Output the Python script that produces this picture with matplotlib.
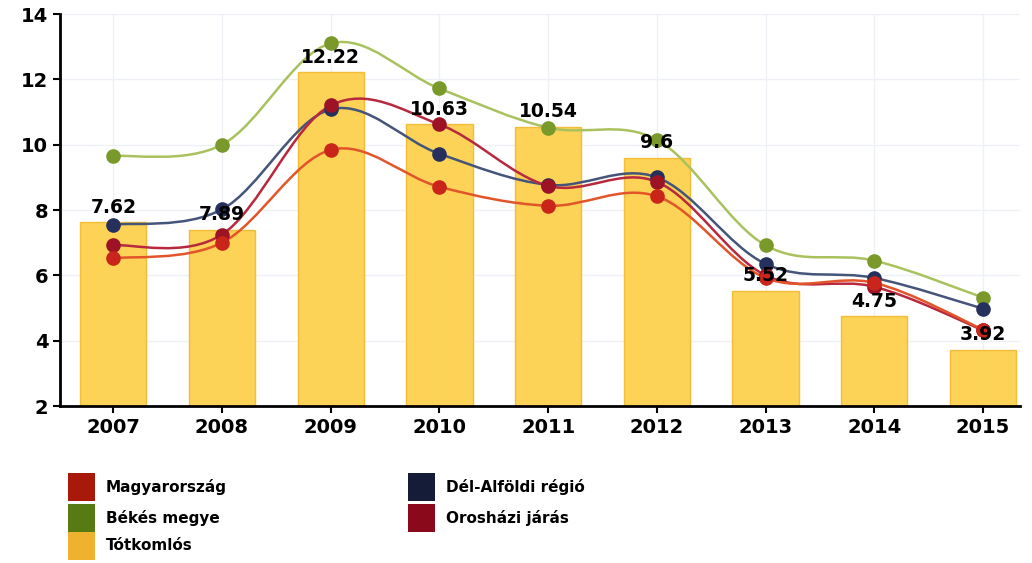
import matplotlib.pyplot as plt
import numpy as np
from matplotlib.path import Path
from matplotlib.patches import PathPatch, Rectangle

# data
years = ["2007", "2008", "2009", "2010", "2011", "2012", "2013", "2014", "2015"]
totkomlos = [7.62, 7.39, 12.22, 10.63, 10.54, 9.6, 5.52, 4.75, 3.72]
bekes = [9.65, 10.0, 13.1, 11.72, 10.52, 10.15, 6.92, 6.45, 5.32]
del_alfoldi = [7.55, 8.02, 11.08, 9.72, 8.77, 9.0, 6.35, 5.92, 4.98]
oroshazi = [6.92, 7.25, 11.2, 10.62, 8.74, 8.86, 6.0, 5.65, 4.32]
magyarorszag = [6.52, 7.0, 9.84, 8.71, 8.13, 8.42, 5.92, 5.77, 4.34]
bar_labels = ["7.62", "7.89", "12.22", "10.63", "10.54", "9.6", "5.52", "4.75", "3.92"]

#Smooth curve through the points with cubic bezier segments (Catmull-Rom style)
def smooth_path(xs, ys, t=0.17):
    xs = np.asarray(xs, float)
    ys = np.asarray(ys, float)
    n = len(xs)
    verts = [(xs[0], ys[0])]
    codes = [Path.MOVETO]
    for i in range(n - 1):
        p0 = max(i - 1, 0)
        p3 = min(i + 2, n - 1)
        c1 = (xs[i] + (xs[i + 1] - xs[p0]) * t, ys[i] + (ys[i + 1] - ys[p0]) * t)
        c2 = (xs[i + 1] - (xs[p3] - xs[i]) * t, ys[i + 1] - (ys[p3] - ys[i]) * t)
        verts += [c1, c2, (xs[i + 1], ys[i + 1])]
        codes += [Path.CURVE4] * 3
    return Path(verts, codes)

fig = plt.figure(figsize=(10.32, 5.63), dpi=100)
ax = fig.add_axes([60 / 1032, 1 - 406 / 563, 960 / 1032, 392 / 563])

x = np.arange(len(years))
ax.bar(x, [v - 2 for v in totkomlos], bottom=2, width=0.61, color="#fcd257",
       edgecolor="#f3bd3a", linewidth=1, zorder=2)

series = [
    (bekes, "#a9c25e", "#79992a"),
    (del_alfoldi, "#45557a", "#25305c"),
    (oroshazi, "#b8283e", "#9c1326"),
    (magyarorszag, "#e2552a", "#c9251a"),
]
for vals, lc, mc in series:
    ax.add_patch(PathPatch(smooth_path(x, vals), facecolor="none", edgecolor=lc,
                           linewidth=1.8, zorder=3))
    ax.plot(x, vals, "o", color=mc, markersize=9.5, zorder=4)

for xi, v, lab in zip(x, totkomlos, bar_labels):
    ax.annotate(lab, (xi, v), xytext=(0, 4), textcoords="offset points",
                ha="center", va="bottom", fontsize=13.5, fontweight="bold", zorder=5)

ax.set_xlim(-0.49, 8.34)
ax.set_ylim(2, 14)
ax.set_yticks(range(2, 15, 2))
ax.set_xticks(x)
ax.set_xticklabels(years)
ax.tick_params(labelsize=14, width=1.5, length=5)
for lab in ax.get_xticklabels() + ax.get_yticklabels():
    lab.set_fontweight("bold")
ax.grid(color="#eef0f6", linewidth=1, zorder=0)
ax.set_axisbelow(True)
for s in ["top", "right"]:
    ax.spines[s].set_visible(False)
for s in ["left", "bottom"]:
    ax.spines[s].set_linewidth(2)

#legend drawn by hand under the chart
legend = [
    ("Magyarország", "#a8190a", 68, 487),
    ("Békés megye", "#587a12", 68, 518),
    ("Tótkomlós", "#eeb22e", 68, 546),
    ("Dél-Alföldi régió", "#151c38", 408, 487),
    ("Orosházi járás", "#8a0a1c", 408, 518),
]
for name, col, px, py in legend:
    fig.patches.append(Rectangle((px / 1032, 1 - (py + 14) / 563), 27 / 1032, 28 / 563,
                                 transform=fig.transFigure, facecolor=col, edgecolor="none"))
    fig.text((px + 38) / 1032, 1 - py / 563, name, fontsize=11, fontweight="heavy",
             va="center", ha="left")

plt.savefig("out.png", dpi=100)
